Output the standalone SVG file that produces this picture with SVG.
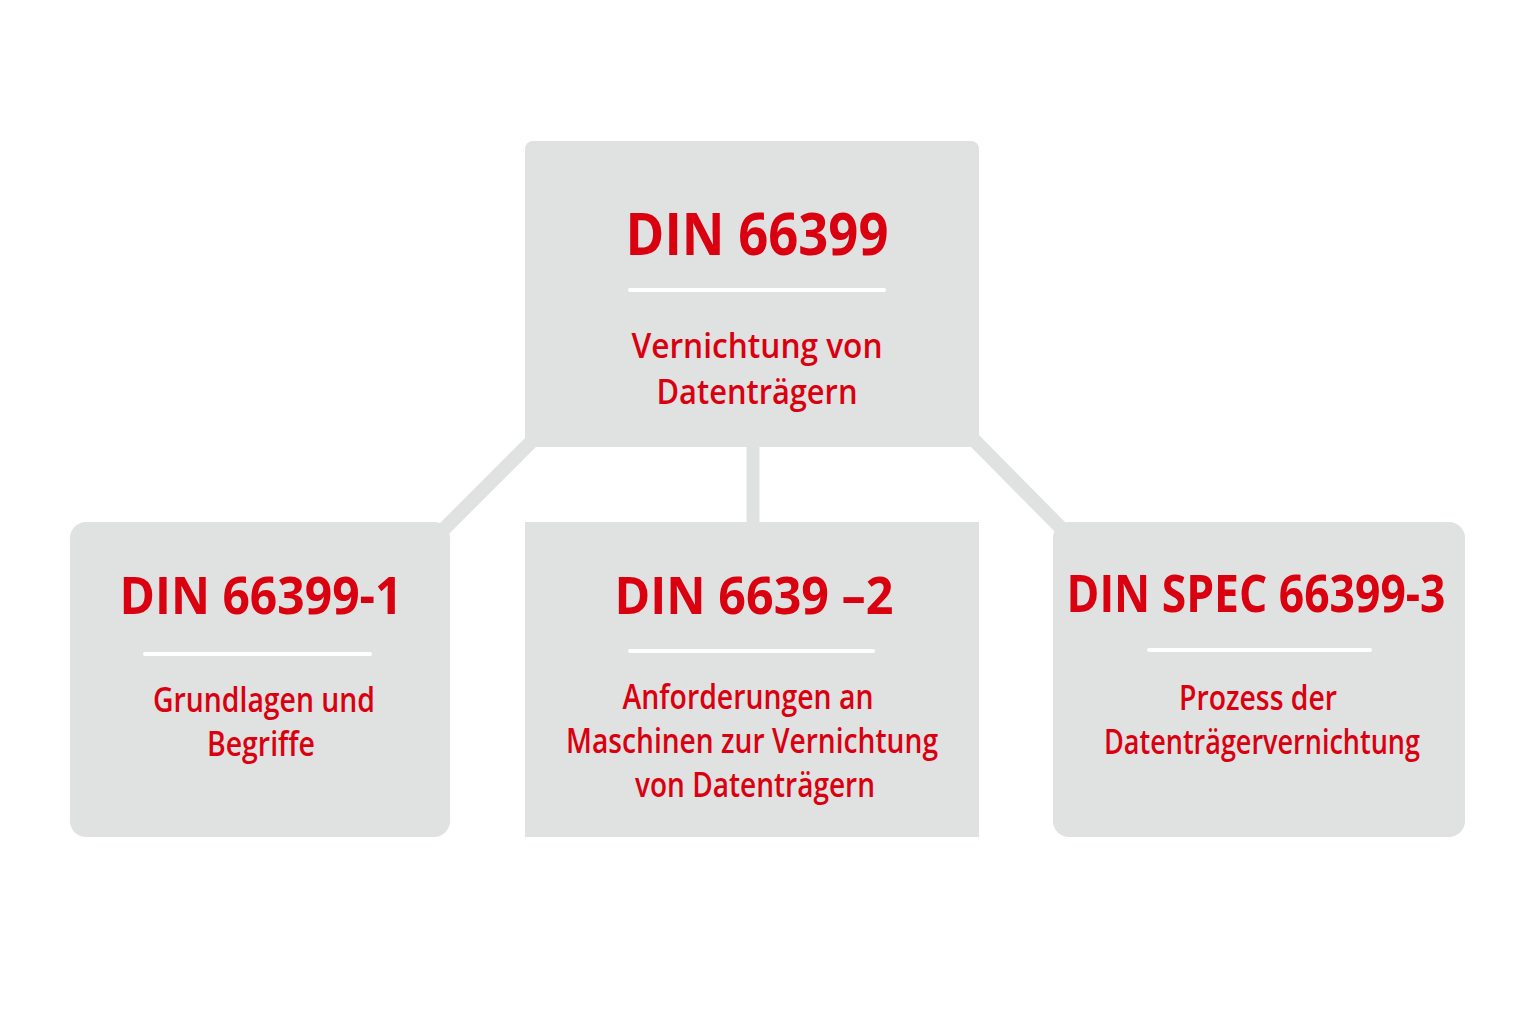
<svg xmlns="http://www.w3.org/2000/svg" width="1536" height="1024" viewBox="0 0 1536 1024">
<style>
.box{fill:#e0e1e1}
.conn{stroke:#e0e1e1;stroke-width:14;fill:none}
.sep{stroke:#ffffff;stroke-width:4;stroke-linecap:round}
.t{font-family:"Open Sans","Liberation Sans",sans-serif;font-weight:700;fill:#d9000f;text-anchor:middle}
.s{font-family:"Open Sans","Liberation Sans",sans-serif;font-weight:600;fill:#d9000f;text-anchor:middle;font-size:34px}
</style>
<rect width="1536" height="1024" fill="#ffffff"/>
<g id="connectors">
<line class="conn" x1="533" y1="440" x2="444" y2="529"/>
<line class="conn" x1="753" y1="445" x2="753" y2="524" style="stroke-width:13"/>
<line class="conn" x1="974" y1="440" x2="1061" y2="528"/>
</g>
<g id="node-root">
<rect class="box" x="525" y="141" width="454" height="306" rx="8"/>
<text class="t" x="757" y="255" font-size="59" textLength="263" lengthAdjust="spacingAndGlyphs">DIN 66399</text>
<line class="sep" x1="630" y1="290" x2="884" y2="290"/>
<text class="s" x="757" y="358" textLength="251" lengthAdjust="spacingAndGlyphs">Vernichtung von</text>
<text class="s" x="757" y="404" textLength="201" lengthAdjust="spacingAndGlyphs">Datenträgern</text>
</g>
<g id="node-1">
<rect class="box" x="70" y="522" width="380" height="315" rx="16"/>
<text class="t" x="261" y="614" font-size="52" textLength="283" lengthAdjust="spacingAndGlyphs">DIN 66399-1</text>
<line class="sep" x1="145" y1="654" x2="370" y2="654"/>
<text class="s" x="264" y="712" textLength="222" lengthAdjust="spacingAndGlyphs">Grundlagen und</text>
<text class="s" x="261" y="756" textLength="108" lengthAdjust="spacingAndGlyphs">Begriffe</text>
</g>
<g id="node-2">
<rect class="box" x="525" y="522" width="454" height="315"/>
<text class="t" x="754" y="614" font-size="52" textLength="279" lengthAdjust="spacingAndGlyphs">DIN 6639 –2</text>
<line class="sep" x1="630" y1="651" x2="873" y2="651"/>
<text class="s" x="748" y="709" textLength="251" lengthAdjust="spacingAndGlyphs">Anforderungen an</text>
<text class="s" x="752" y="753" textLength="372" lengthAdjust="spacingAndGlyphs">Maschinen zur Vernichtung</text>
<text class="s" x="755" y="797" textLength="240" lengthAdjust="spacingAndGlyphs">von Datenträgern</text>
</g>
<g id="node-3">
<rect class="box" x="1053" y="522" width="412" height="315" rx="16"/>
<text class="t" x="1256" y="612" font-size="52" textLength="379" lengthAdjust="spacingAndGlyphs">DIN SPEC 66399-3</text>
<line class="sep" x1="1149" y1="650" x2="1370" y2="650"/>
<text class="s" x="1258" y="710" textLength="158" lengthAdjust="spacingAndGlyphs">Prozess der</text>
<text class="s" x="1262" y="754" textLength="316" lengthAdjust="spacingAndGlyphs">Datenträgervernichtung</text>
</g>
</svg>
